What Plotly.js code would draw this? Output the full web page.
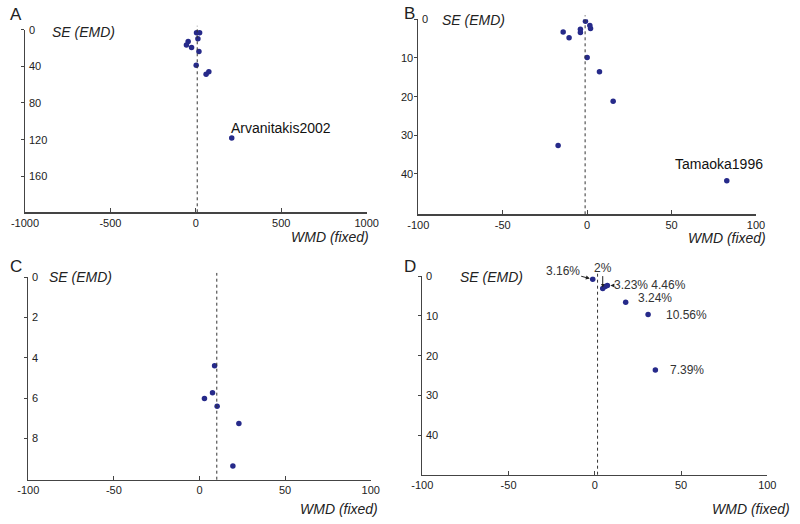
<!DOCTYPE html>
<html>
<head>
<meta charset="utf-8">
<script src="https://cdn.plot.ly/plotly-3.0.1.min.js"></script>
<style>
  html, body { margin: 0; padding: 0; background: #fff; }
  #chart { width: 800px; height: 524px; }
</style>
</head>
<body>
<div id="chart"></div>
<script>
// Panel A
const wmdA = [4, 22, 12, -45, -55, -25, 18, 2, 60, 76, 210];
const seA = [3.6, 3.6, 10, 13, 17, 19.6, 24, 39, 48.7, 46, 118];
const pooledA = 8;
const xTicksA = [-1000, -500, 0, 500, 1000];
const yTicksA = [0, 40, 80, 120, 160];

// Panel B
const wmdB = [-1, 1.6, 2, -4, -4, -14.2, -10.7, 0, 7.3, 15.4, -17.2, 82.7];
const seB = [0.5, 1.6, 2.4, 2.6, 3.4, 3.3, 4.8, 9.9, 13.6, 21.2, 32.7, 41.8];
const pooledB = -1.2;
const yTicksB = [0, 10, 20, 30, 40];

// Panel C
const wmdC = [8.8, 7.6, 2.9, 10.3, 23, 19.5];
const seC = [4.4, 5.74, 6.02, 6.41, 7.26, 9.37];
const pooledC = 10.1;
const yTicksC = [0, 2, 4, 6, 8];

// Panel D
const wmdD = [-1.2, 4.6, 6, 7.3, 17.9, 30.9, 35.1];
const seD = [0.76, 3.1, 2.6, 2.35, 6.55, 9.6, 23.6];
const pooledD = 1.6;
const yTicksD = [0, 10, 20, 30, 40];
const weightLabelsD = ['3.16%', '2%', '', '3.23% 4.46%', '3.24%', '10.56%', '7.39%'];

// shared x ticks for B, C, D
const xTicks100 = [-100, -50, 0, 50, 100];

const FONT = 'Liberation Sans, Arial, sans-serif';
const tickFont = { family: FONT, size: 11, color: '#222' };
const titleFont = { family: FONT, size: 14, color: '#222' };
const markerColor = '#262a8a';

function dots(x, y, xa, ya) {
    return {
        x: x, y: y, xaxis: xa, yaxis: ya, type: 'scatter', mode: 'markers',
        marker: { color: markerColor, size: 5.5 }, hoverinfo: 'x+y'
    };
}

function xAxis(dom, anchor, range, vals) {
    return {
        domain: dom, anchor: anchor, range: range, tickvals: vals, ticktext: vals.map(v => String(v)),
        showline: true, linecolor: '#444', linewidth: 1.3, ticks: 'inside', ticklen: 4, tickcolor: '#444',
        zeroline: false, showgrid: false, tickfont: tickFont
    };
}

function yAxis(dom, anchor, range, vals) {
    return {
        domain: dom, anchor: anchor, range: range, tickvals: vals, showticklabels: false,
        showline: true, linecolor: '#444', linewidth: 1.3, ticks: 'outside', ticklen: 3, tickcolor: '#444',
        zeroline: false, showgrid: false
    };
}

// y tick labels sit beside the axis line; side per tick ('right' = inside the plot)
function yLabels(xa, ya, vals, sides) {
    return vals.map((v, i) => {
        const right = sides[i] === 'right';
        return {
            xref: xa + ' domain', yref: ya, x: 0, y: v, xanchor: right ? 'left' : 'right', yanchor: 'middle',
            xshift: right ? 2 : -3, text: String(v), showarrow: false, font: tickFont
        };
    });
}

const W = 800, H = 524;
const px = (a, b) => [a / W, b / W];
const py = (top, bottom) => [1 - bottom / H, 1 - top / H];

const data = [
    dots(wmdA, seA, 'x', 'y'),
    dots(wmdB, seB, 'x2', 'y2'),
    dots(wmdC, seC, 'x3', 'y3'),
    dots(wmdD, seD, 'x4', 'y4')
];

function pooledLine(xref, yref, v) {
    return {
        type: 'line', xref: xref, yref: yref + ' domain', x0: v, x1: v, y0: 0, y1: 1.02,
        line: { color: '#333', width: 1, dash: 'dot' }
    };
}

function seTitle(xa, ya, x, y) {
    return { xref: xa + ' domain', yref: ya + ' domain', x: x, y: y, xanchor: 'left', yanchor: 'middle',
        text: '<i>SE (EMD)</i>', showarrow: false, font: titleFont };
}
function wmdTitle(xa, ya, x, y) {
    return { xref: xa + ' domain', yref: ya + ' domain', x: x, y: y, xanchor: 'right', yanchor: 'middle',
        text: '<i>WMD (fixed)</i>', showarrow: false, font: titleFont };
}
function letter(t, x, y) {
    return { xref: 'paper', yref: 'paper', x: x, y: y, xanchor: 'left', yanchor: 'middle',
        text: t, showarrow: false, font: { family: FONT, size: 17, color: '#222' } };
}

const studyFont = { family: FONT, size: 14, color: '#111' };
const pctFont = { family: FONT, size: 12, color: '#333' };
const arrowStyle = { showarrow: true, arrowhead: 2, arrowsize: 0.8, arrowwidth: 1, arrowcolor: '#222', standoff: 3 };

const allRight = ['right', 'right', 'right', 'right', 'right'];

const annotations = [
    ...yLabels('x', 'y', yTicksA, allRight),
    ...yLabels('x2', 'y2', yTicksB, ['right', 'left', 'left', 'left', 'left']),
    ...yLabels('x3', 'y3', yTicksC, allRight),
    ...yLabels('x4', 'y4', yTicksD, allRight),
    seTitle('x', 'y', 0.073, 0.986), wmdTitle('x', 'y', 1.013, -0.135),
    seTitle('x2', 'y2', 0.064, 0.996), wmdTitle('x2', 'y2', 1.035, -0.123),
    seTitle('x3', 'y3', 0.054, 1.0), wmdTitle('x3', 'y3', 1.027, -0.143),
    seTitle('x4', 'y4', 0.104, 0.997), wmdTitle('x4', 'y4', 1.071, -0.171),
    letter('A', 8 / W, 1 - 15 / H), letter('B', 402 / W, 1 - 14 / H),
    letter('C', 8 / W, 1 - 266 / H), letter('D', 402 / W, 1 - 266 / H),
    { xref: 'x', yref: 'y', x: wmdA[10], y: seA[10], xanchor: 'left', yanchor: 'middle', xshift: -3, yshift: 10,
      text: 'Arvanitakis2002', showarrow: false, font: studyFont },
    { xref: 'x2', yref: 'y2', x: wmdB[11], y: seB[11], xanchor: 'center', yanchor: 'middle', xshift: -8, yshift: 17,
      text: 'Tamaoka1996', showarrow: false, font: studyFont },
    // arrowed weight labels in D
    { xref: 'x4', yref: 'y4', x: wmdD[0], y: seD[0], ax: -30, ay: -8, text: weightLabelsD[0], font: pctFont, ...arrowStyle },
    { xref: 'x4', yref: 'y4', x: wmdD[1], y: seD[1], ax: 0, ay: -21, text: weightLabelsD[1], font: pctFont,
      ...arrowStyle, standoff: 1, arrowsize: 0.7 },
    { xref: 'x4', yref: 'y4', x: wmdD[3], y: seD[3], ax: 43, ay: -1, text: weightLabelsD[3], font: pctFont, ...arrowStyle },
    { xref: 'x4', yref: 'y4', x: wmdD[4], y: seD[4], xanchor: 'left', yanchor: 'middle', xshift: 10, yshift: 4,
      text: weightLabelsD[4], showarrow: false, font: pctFont },
    { xref: 'x4', yref: 'y4', x: wmdD[5], y: seD[5], xanchor: 'left', yanchor: 'middle', xshift: 16, yshift: -1,
      text: weightLabelsD[5], showarrow: false, font: pctFont },
    { xref: 'x4', yref: 'y4', x: wmdD[6], y: seD[6], xanchor: 'left', yanchor: 'middle', xshift: 13, yshift: 0,
      text: weightLabelsD[6], showarrow: false, font: pctFont }
];

const layout = {
    width: W, height: H,
    margin: { l: 0, r: 0, t: 0, b: 0 },
    paper_bgcolor: '#fff', plot_bgcolor: 'rgba(0,0,0,0)',
    showlegend: false,
    xaxis: xAxis(px(25, 366.7), 'y', [-1000, 1000], xTicksA),
    yaxis: yAxis(py(29.5, 212.3), 'x', [199, 0], yTicksA),
    xaxis2: xAxis(px(418.3, 756), 'y2', [-100, 100], xTicks100),
    yaxis2: yAxis(py(19.3, 214.3), 'x2', [50.5, 0], yTicksB),
    xaxis3: xAxis(px(28.3, 370.7), 'y3', [-100, 100], xTicks100),
    yaxis3: yAxis(py(277, 479.7), 'x3', [10.05, 0], yTicksC),
    xaxis4: xAxis(px(422.3, 767.3), 'y4', [-100, 100], xTicks100),
    yaxis4: yAxis(py(276.3, 474.7), 'x4', [50, 0], yTicksD),
    shapes: [
        pooledLine('x', 'y', pooledA),
        pooledLine('x2', 'y2', pooledB),
        pooledLine('x3', 'y3', pooledC),
        pooledLine('x4', 'y4', pooledD)
    ],
    annotations: annotations
};

Plotly.newPlot('chart', data, layout, { displayModeBar: false, staticPlot: true });
</script>
</body>
</html>
